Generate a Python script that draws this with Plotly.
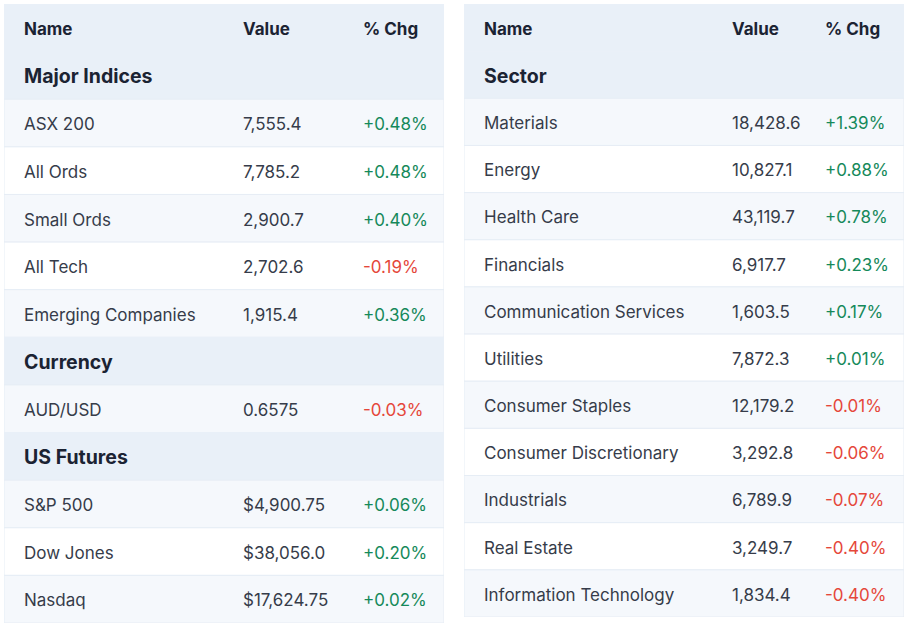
import plotly.graph_objects as go

# ---------------- data ----------------
header_labels = ["Name", "Value", "% Chg"]

major_names = ["ASX 200", "All Ords", "Small Ords", "All Tech", "Emerging Companies"]
major_values = ["7,555.4", "7,785.2", "2,900.7", "2,702.6", "1,915.4"]
major_chg = [0.48, 0.48, 0.40, -0.19, 0.36]

currency_names = ["AUD/USD"]
currency_values = ["0.6575"]
currency_chg = [-0.03]

futures_names = ["S&P 500", "Dow Jones", "Nasdaq"]
futures_values = ["$4,900.75", "$38,056.0", "$17,624.75"]
futures_chg = [0.06, 0.20, 0.02]

sector_names = ["Materials", "Energy", "Health Care", "Financials", "Communication Services",
                "Utilities", "Consumer Staples", "Consumer Discretionary", "Industrials",
                "Real Estate", "Information Technology"]
sector_values = ["18,428.6", "10,827.1", "43,119.7", "6,917.7", "1,603.5", "7,872.3",
                 "12,179.2", "3,292.8", "6,789.9", "3,249.7", "1,834.4"]
sector_chg = [1.39, 0.88, 0.78, 0.23, 0.17, 0.01, -0.01, -0.06, -0.07, -0.40, -0.40]

left_groups = [("Major Indices", major_names, major_values, major_chg),
               ("Currency", currency_names, currency_values, currency_chg),
               ("US Futures", futures_names, futures_values, futures_chg)]
right_groups = [("Sector", sector_names, sector_values, sector_chg)]

# ---------------- style ----------------
FONT = "Inter, Noto Sans, sans-serif"
HEAD_BG = "#e9f0f8"
LIGHT_BG = "#f5f8fc"
WHITE_BG = "#ffffff"
LINE_C = "#e6edf5"
DARK = "#1b2333"
TEXT = "#363c4a"
GREEN = "#15895a"
RED = "#e5473a"
ITEM_SIZE = 17
SECTION_SIZE = 19.5
W, H = 911, 634
TABLE_W = 440
TEXT_SHIFT_PX = 3


def build(groups):
    rows = dict(name=[], value=[], chg=[], fill=[], line=[], ncolor=[], ccolor=[], nsize=[])
    rows["name"].append("<b>%s</b>" % header_labels[0])
    rows["value"].append("<b>%s</b>" % header_labels[1])
    rows["chg"].append("<b>%s</b>" % header_labels[2])
    rows["fill"].append(HEAD_BG); rows["line"].append(HEAD_BG)
    rows["ncolor"].append(DARK); rows["ccolor"].append(DARK); rows["nsize"].append(ITEM_SIZE)
    for title, nm, vv, cc in groups:
        rows["name"].append("<b>%s</b>" % title); rows["value"].append(""); rows["chg"].append("")
        rows["fill"].append(HEAD_BG); rows["line"].append(HEAD_BG)
        rows["ncolor"].append(DARK); rows["ccolor"].append(DARK); rows["nsize"].append(SECTION_SIZE)
        for i, (n, v, c) in enumerate(zip(nm, vv, cc)):
            rows["name"].append(n); rows["value"].append(v)
            rows["chg"].append("%+.2f%%" % c)
            rows["fill"].append(LIGHT_BG if i % 2 == 0 else WHITE_BG)
            rows["line"].append(LINE_C)
            rows["ncolor"].append(TEXT)
            rows["ccolor"].append(GREEN if c >= 0 else RED)
            rows["nsize"].append(ITEM_SIZE)
    return rows


def add_table(fig, groups, xa, ya, ya_text, col_x):
    r = build(groups)
    n = len(r["name"])
    ys = list(range(n))
    fig.add_trace(go.Bar(orientation="h", y=ys, x=[TABLE_W] * n, base=0, width=1,
                         marker=dict(color=r["fill"], line=dict(color=r["line"], width=1)),
                         hoverinfo="skip", xaxis=xa, yaxis=ya))
    for key, cx in zip(["name", "value", "chg"], col_x):
        if key == "name":
            colors, sizes = r["ncolor"], r["nsize"]
        elif key == "value":
            colors = [DARK if i == 0 else TEXT for i in range(n)]
            sizes = ITEM_SIZE
        else:
            colors, sizes = r["ccolor"], ITEM_SIZE
        fig.add_trace(go.Scatter(x=[cx] * n, y=ys, mode="text", text=r[key],
                                 textposition="middle right",
                                 textfont=dict(family=FONT, size=sizes, color=colors),
                                 hoverinfo="skip", cliponaxis=False, xaxis=xa, yaxis=ya_text))
    return n


fig = go.Figure()
nl = add_table(fig, left_groups, "x", "y", "y3", [20, 239, 359])
nr = add_table(fig, right_groups, "x2", "y2", "y4", [20, 268, 361])

left_top, left_bot = 4, 623
right_top, right_bot = 4, 617
dl = TEXT_SHIFT_PX * nl / (left_bot - left_top)
dr = TEXT_SHIFT_PX * nr / (right_bot - right_top)

axis_common = dict(visible=False, showgrid=False, zeroline=False, fixedrange=True)
ydl = [1 - left_bot / H, 1 - left_top / H]
ydr = [1 - right_bot / H, 1 - right_top / H]
fig.update_layout(
    width=W, height=H, margin=dict(l=0, r=0, t=0, b=0),
    paper_bgcolor="white", plot_bgcolor="rgba(0,0,0,0)", showlegend=False,
    xaxis=dict(domain=[4 / W, 444 / W], range=[0, TABLE_W], **axis_common),
    yaxis=dict(domain=ydl, range=[nl - 0.5, -0.5], **axis_common),
    yaxis3=dict(domain=ydl, range=[nl - 0.5 - dl, -0.5 - dl], overlaying="y", anchor="x", **axis_common),
    xaxis2=dict(domain=[464 / W, 904 / W], range=[0, TABLE_W], anchor="y2", **axis_common),
    yaxis2=dict(domain=ydr, range=[nr - 0.5, -0.5], anchor="x2", **axis_common),
    yaxis4=dict(domain=ydr, range=[nr - 0.5 - dr, -0.5 - dr], overlaying="y2", anchor="x2", **axis_common),
)
fig.write_html("out.html", config={"displayModeBar": False},
               post_script="document.body.style.margin='0';")
